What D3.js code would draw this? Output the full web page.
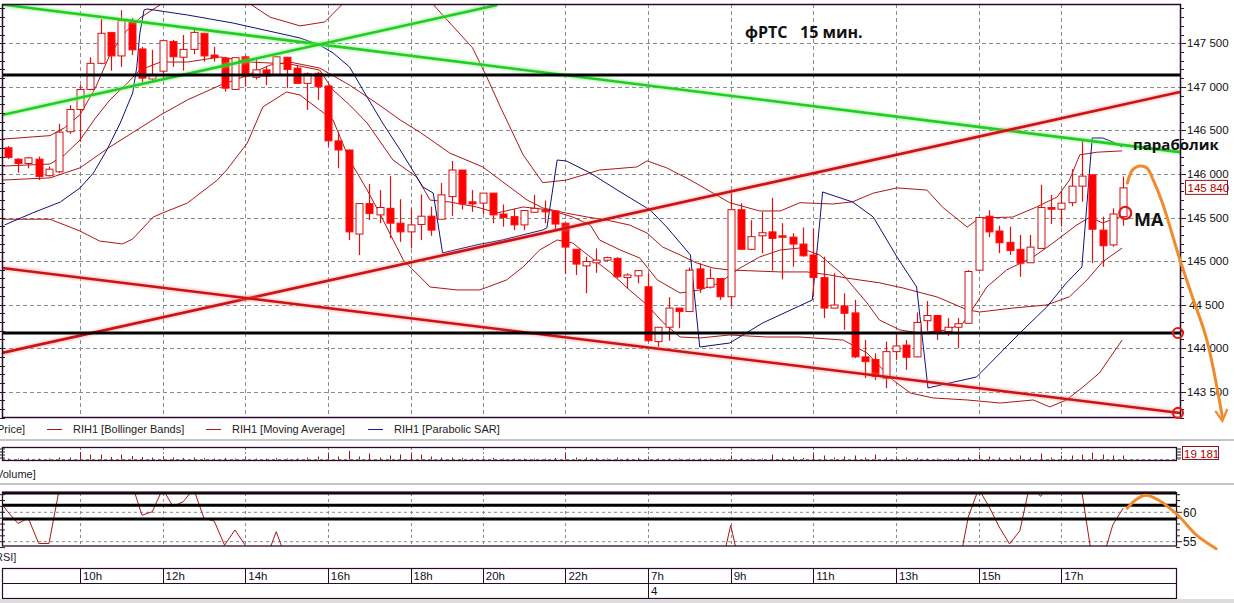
<!DOCTYPE html>
<html><head><meta charset="utf-8">
<script src="https://cdn.jsdelivr.net/npm/d3@7"></script>
<style>body{margin:0;background:#fff;overflow:hidden}svg{display:block}</style>
</head><body>
<svg id="c" width="1234" height="603"></svg>
<script>
// ---------- DATA ----------
const opens=[146300,146170,146120,146170,145980,146025,146485,146740,146970,147270,147625,147355,147740,147435,147090,147180,147520,147340,147430,147615,147365,147330,146970,147345,147110,147195,147135,147340,147215,147040,147155,147010,146380,146275,145310,145660,145530,145605,145435,145335,145420,145515,145480,145740,146045,145680,145665,145780,145540,145510,145415,145560,145585,145575,145435,145135,144945,144980,145010,145030,144810,144830,144705,144075,144240,144460,144420,144910,144700,144800,144590,145590,145135,145290,145335,145290,145275,145195,145070,144810,144460,144485,144405,143900,143870,143655,143960,144035,143900,144315,144375,144190,144240,144285,144895,145515,145345,145215,145135,144980,145145,145615,145595,145670,145860,145990,145355,145185,145510];
const highs=[146320,146180,146195,146200,146085,146575,146790,147020,147340,147780,147630,147880,147790,147460,147425,147540,147540,147595,147660,147620,147460,147345,147335,147360,147330,147230,147355,147345,147250,147165,147175,147020,146485,146280,145660,145885,145815,145975,145710,145605,145765,145625,145895,146150,146045,145815,145780,145780,145650,145600,145580,145760,145695,145575,145435,145135,145050,145145,145050,145045,144860,144890,144860,144240,144585,144460,144925,144975,144915,144800,145780,145665,145470,145565,145725,145435,145320,145385,145375,145050,144860,144630,144555,144095,143940,144075,144170,144095,144410,144540,144375,144345,144345,144895,145500,145585,145405,145395,145300,145300,145875,145760,145805,146055,146390,146000,145510,145605,145970];
const lows=[146170,146015,146065,145930,145970,146010,146460,146370,146960,147260,147185,147230,147365,147050,147060,147100,147230,147185,147375,147290,147290,146945,146970,147000,147085,147020,147135,146985,147040,146735,146850,146315,146065,145240,145070,145470,145435,145260,145220,145145,145240,145290,145480,145515,145590,145565,145540,145435,145395,145355,145355,145555,145435,145355,144850,144840,144630,144865,144995,144800,144685,144745,144075,144015,144085,144230,144420,144635,144685,144555,144485,145135,145125,145090,144890,144790,144935,145050,144590,144345,144460,144210,143885,143655,143635,143540,143865,143750,143895,144200,144095,144140,144000,144280,144895,145275,145090,145070,144820,144980,145145,145425,145395,145630,145680,144975,144935,145165,145405];
const closes=[146190,146120,146185,145970,146055,146480,146740,146970,147270,147615,147355,147760,147425,147100,147135,147530,147345,147430,147625,147355,147335,146985,147335,147125,147195,147125,147345,147200,147040,147150,147000,146380,146275,145335,145660,145545,145615,145435,145335,145415,145515,145355,145760,146045,145655,145655,145780,145530,145500,145415,145580,145605,145565,145425,145160,144965,144995,145010,145040,144820,144840,144890,144085,144240,144460,144420,144895,144685,144800,144590,145590,145135,145280,145325,145260,145275,145195,145060,144810,144460,144495,144400,143900,143845,143675,143960,144025,143895,144295,144375,144190,144240,144280,144880,145500,145335,145210,145120,144975,145160,145615,145595,145665,145860,145975,145365,145175,145540,145840];
const volumes=[1600,1600,1600,1600,1600,3200,3200,12000,8000,8000,4000,8000,5600,4000,3200,4800,3200,2400,3200,2400,1600,2400,1600,2400,1600,1600,2400,1600,1600,3200,4800,9600,4800,13600,4800,9600,3200,6400,8000,9600,8000,4800,3200,3200,2400,1600,1600,2400,1600,1600,1600,1600,1600,2400,9600,3200,3200,2400,1600,3200,1600,2400,2400,1600,1600,1600,1600,1600,1600,1600,6400,1600,1600,1600,8000,2400,4800,2400,9600,6400,3200,4800,6400,3200,8000,3200,2400,3200,2400,1600,1600,1600,2400,3200,8000,4800,3200,3200,6400,3200,9600,3200,6400,6400,8000,11200,8000,6400,6400];
// indicator lines: [candle index, price]
const upperBand=[[-0.5,146400],[4.1,146440],[5.5,146530],[7,146680],[8.5,146990],[9.9,147370],[11.4,147630],[12.8,147790],[15,147960],[17,148150],[20,148250],[22,148150],[23.5,147950],[25.4,147800],[28.3,147700],[30.7,147745],[32.5,147960],[35,148300],[38,148400],[40,148150],[41.1,147960],[42.1,147825],[45,147450],[46.4,147110],[47.7,146770],[49.9,146220],[51.8,145900],[54.1,145930],[57.3,146045],[60.9,146080],[61.9,146150],[63.8,146070],[66.1,145930],[68.3,145780],[69.9,145670],[72.8,145575],[74.8,145575],[76.7,145670],[79.9,145655],[81.8,145680],[83.8,145780],[86.1,145840],[89,145815],[90.5,145620],[92.9,145390],[94.1,145495],[97.3,145505],[99.6,145620],[101.6,145735],[102.8,145930],[103.8,146220],[105.5,146250],[107.9,146265]];
const middleBand=[[-0.5,145930],[4.1,145955],[7,146070],[9.9,146310],[14.8,146677],[17.4,146850],[20.6,147020],[22.8,147113],[25.4,147250],[27.3,147285],[30.2,147216],[33.1,147020],[36,146790],[38,146620],[39.9,146480],[42.8,146240],[46,146080],[48.6,145850],[50.3,145700],[51.8,145610],[54.1,145550],[56.1,145506],[58,145470],[60.2,145414],[61.9,145322],[63.4,145162],[65.1,145070],[66.7,144978],[68.3,144920],[69.9,144897],[74.8,144875],[77.4,144875],[79.6,144840],[81.2,144805],[84.4,144750],[86.7,144690],[90,144587],[92.9,144440],[94.1,144415],[97.3,144460],[100.6,144496],[102.8,144590],[104.5,144783],[106,144990],[107.9,145150]];
const lowerBand=[[-0.5,145480],[4.1,145480],[7,145345],[8.9,145230],[11.1,145196],[12.1,145253],[14.1,145506],[15,145552],[17.4,145666],[20.3,145930],[21.2,146045],[23.2,146355],[24.7,146769],[27,146941],[28.3,146906],[30.2,146735],[31.5,146620],[33.1,146160],[34.8,145816],[36,145552],[38.3,145012],[40.9,144702],[43.5,144668],[45.7,144668],[48.3,144783],[49.9,144932],[51.5,145127],[53.2,145242],[54.7,145207],[56.4,145047],[58.3,144874],[60.2,144668],[61.9,144496],[63.4,144300],[65.1,144128],[67,144117],[69.9,144151],[73.5,144128],[76.7,144128],[80.9,144093],[83.2,143944],[85.7,143634],[87.4,143485],[89.6,143428],[92.9,143405],[96.1,143370],[99.3,143405],[100.9,143325],[102.5,143405],[104.1,143554],[105.7,143715],[107.9,144093]];
const movingAverage=[[-0.5,146090],[4.1,146114],[5.5,146218],[7,146390],[8.5,146642],[9.9,146850],[11.4,147021],[12.8,147193],[14.8,147285],[17.4,147285],[20.6,147343],[23.5,147285],[27.3,147262],[30.2,147193],[31.5,146964],[33.1,146792],[34.8,146585],[37.3,146160],[39.6,145965],[40.9,145700],[42.8,145678],[45.4,145621],[47.4,145552],[49.9,145621],[52.5,145586],[54.7,145506],[56.4,145414],[57.3,145242],[59.3,145127],[61.2,145035],[62.9,144783],[65.1,144633],[67,144668],[68.9,144748],[70.9,144920],[72.8,145047],[74.8,145127],[76.7,145150],[78.6,145070],[80.9,144840],[83.2,144519],[84.4,144323],[86.4,144208],[88.3,144174],[90.9,144208],[92.5,144289],[93.8,144519],[94.8,144702],[96.7,144897],[99.3,145047],[101.2,145207],[103.5,145414],[104.8,145506],[106,145437],[107.9,145518]];
const parabolicSar=[[-0.3,145414],[2.4,145552],[5.1,145678],[7,145839],[8.3,146011],[9.6,146275],[10.9,146585],[12.1,146930],[12.5,147228],[12.8,147618],[13.2,147882],[13.5,147894],[17.4,147825],[21.8,147733],[25.7,147630],[28.3,147561],[30.2,147480],[31.5,147389],[33.1,147228],[34.8,146883],[36.3,146585],[38,146275],[40.2,145850],[41.2,145781],[42.1,145093],[45.4,145185],[47.9,145242],[51.8,145357],[52.2,145380],[53.2,146160],[54.1,146149],[56.4,146011],[59,145816],[62.2,145586],[63.8,145391],[66.1,145070],[67,144013],[69.9,144059],[73.1,144289],[77.9,144553],[78.9,145793],[81.8,145678],[83.8,145506],[86.1,145047],[88,144702],[89.1,143543],[91.2,143600],[93.8,143669],[96.1,143945],[98,144174],[100.6,144473],[102.5,144748],[104,144932],[105,146413],[106,146413],[107,146367],[107.9,146310]];
const rsiPoints=[[-1,62.5],[0,60.1],[1,58.1],[2,59.0],[3,54.7],[4,54.7],[5,64],[6,72],[11,75],[12,65],[13,59.5],[14,60.1],[15,64],[16,61.0],[17,61.8],[18,64],[19,59.0],[20,58.5],[21,54.4],[22,57.0],[23,54.4],[24,50],[25,52],[26,56.7],[27,52],[33,30],[45,45],[55,40],[62,30],[69,50],[70,57.8],[71,50],[80,40],[85,35],[92,50],[93,59.2],[94,64],[95,61],[96,57.5],[97,54.6],[98,56.9],[99,65],[100,62.7],[101,65],[104,63.5],[105,52],[106,52],[107,57.9],[108,60.7]];
// axes / labels
const priceTicks=[143500,144000,144500,145000,145500,146000,146500,147000,147500];
const priceTickLabels=["143 500","144 000","44 500","145 000","145 500","146 000","146 500","147 000","147 500"];
const timeLabels=["10h","12h","14h","16h","18h","20h","22h","7h","9h","11h","13h","15h","17h"];
const timeIndex=[7,15,23,31,39,46,54,62,70,78,86,94,102];
const dateLabel="4", dateIndex=62;
const lastPriceLabel="145 840", lastPrice=145840;
const volumeLabel="19 181";
const rsiTickValues=[60,55];
const rsiLevels=[63.3,61.2,58.85];
const horizontalLevels=[147136,144174];
const greenTrendLines=[[[-0.55,147945],[113.5,146250]],[[-0.55,146677],[47.4,147940]]];
const redTrendLines=[[[-0.55,143945],[113.5,146941]],[[-0.55,144920],[113.5,143256]]];
const orangeForecast=[[108.4,145896],[108.9,146045],[109.6,146091],[110.3,146068],[110.9,145931],[111.8,145666],[113.5,145012],[114.7,144588],[116.1,144093],[117.6,143210]];
const orangeRsi=[[108.4,60.7],[109.2,62.1],[110.2,62.9],[111.4,62.1],[113.3,59.5],[115.1,56.1],[117,53.8]];
const circleMarks=[[113.3,144174],[113.3,143256],[108.2,145552]];
const legendItems=[["RIH1 [Bollinger Bands]","#b01515"],["RIH1 [Moving Average]","#b01515"],["RIH1 [Parabolic SAR]","#1a1aa0"]];

// ---------- LAYOUT ----------
const svg=d3.select("#c");
const L=2,R=1180,T=4,B=417;
const x=d3.scaleLinear().domain([-0.55,113.5]).range([L,R]);
const y=d3.scaleLinear().domain([143500,147500]).range([391.7,43.3]);
const yVol=d3.scaleLinear().domain([0,20000]).range([459.5,447]);
const yRsi=d3.scaleLinear().domain([55,60]).range([541.7,512.3]);
const font="'Liberation Sans',Arial,sans-serif";
const border="#2a0a2a", grid="#8a8a8a";

const defs=svg.append("defs");
defs.append("clipPath").attr("id","cm").append("rect").attr("x",L).attr("y",T).attr("width",R-L).attr("height",B-T);
defs.append("clipPath").attr("id","cr").append("rect").attr("x",L).attr("y",492).attr("width",R-L).attr("height",54);
const glow=defs.append("filter").attr("id","glow").attr("x","-5%").attr("y","-50%").attr("width","110%").attr("height","200%");
glow.append("feGaussianBlur").attr("stdDeviation",0.8);

svg.append("rect").attr("width",1234).attr("height",603).attr("fill","#fff");

// ---------- MAIN PANEL ----------
const main=svg.append("g");
const mg=main.append("g").attr("clip-path","url(#cm)");
mg.selectAll(".hg").data(priceTicks).join("line").attr("x1",L).attr("x2",R)
  .attr("y1",d=>Math.round(y(d))+0.5).attr("y2",d=>Math.round(y(d))+0.5)
  .attr("stroke",grid).attr("stroke-dasharray","4,3");
mg.selectAll(".vg").data(timeIndex).join("line").attr("y1",T).attr("y2",B)
  .attr("x1",d=>Math.round(x(d))+0.5).attr("x2",d=>Math.round(x(d))+0.5)
  .attr("stroke",grid).attr("stroke-dasharray","4,3");

const line=d3.line().x(d=>x(d[0])).y(d=>y(d[1]));
[upperBand,middleBand,lowerBand,movingAverage].forEach(s=>{
  mg.append("path").attr("d",line(s)).attr("fill","none").attr("stroke","#b01515").attr("stroke-width",1);
});
mg.append("path").attr("d",line(parabolicSar)).attr("fill","none").attr("stroke","#10107a").attr("stroke-width",1);

// candles
const idx=d3.range(opens.length);
const cg=mg.append("g");
cg.selectAll(".w").data(idx).join("line")
  .attr("x1",i=>Math.round(x(i))+0.5).attr("x2",i=>Math.round(x(i))+0.5)
  .attr("y1",i=>y(highs[i])).attr("y2",i=>y(lows[i]))
  .attr("stroke","#e01010").attr("stroke-width",1.2);
cg.selectAll(".b").data(idx).join("rect")
  .attr("x",i=>Math.round(x(i))-3).attr("width",7)
  .attr("y",i=>y(Math.max(opens[i],closes[i])))
  .attr("height",i=>Math.max(1.5,Math.abs(y(opens[i])-y(closes[i]))))
  .attr("fill",i=>closes[i]<opens[i]?"#ff0000":"#ffffff")
  .attr("stroke",i=>closes[i]<opens[i]?"#ff1010":"#d01010").attr("stroke-width",1);

// trend lines
greenTrendLines.forEach(s=>{
  mg.append("path").attr("d",line(s)).attr("stroke","#7cf07c").attr("stroke-width",5).attr("opacity",0.5).attr("filter","url(#glow)");
  mg.append("path").attr("d",line(s)).attr("stroke","#22cc22").attr("stroke-width",2.6);
});
redTrendLines.forEach(s=>{
  mg.append("path").attr("d",line(s)).attr("stroke","#ff8080").attr("stroke-width",5).attr("opacity",0.45).attr("filter","url(#glow)");
  mg.append("path").attr("d",line(s)).attr("stroke","#c81414").attr("stroke-width",2.6);
});
mg.selectAll(".hl").data(horizontalLevels).join("line").attr("x1",L).attr("x2",R)
  .attr("y1",d=>y(d)).attr("y2",d=>y(d)).attr("stroke","#000").attr("stroke-width",3);

main.append("rect").attr("x",L+0.5).attr("y",T+0.5).attr("width",R-L).attr("height",B-T)
  .attr("fill","none").attr("stroke",border).attr("stroke-width",1.5);

// right axis ticks
const minor=d3.range(143200,147901,100);
main.selectAll(".mt").data(minor).join("line").attr("x1",R).attr("x2",d=>d%500===0?R+6:R+4)
  .attr("y1",d=>Math.round(y(d))+0.5).attr("y2",d=>Math.round(y(d))+0.5).attr("stroke","#222");
main.selectAll(".lt").data(minor).join("line").attr("x1",0).attr("x2",L+3)
  .attr("y1",d=>Math.round(y(d))+0.5).attr("y2",d=>Math.round(y(d))+0.5).attr("stroke","#222");
main.selectAll(".pl").data(priceTicks).join("text").attr("x",d=>d===144500?1189:1187).attr("y",d=>y(d)+4)
  .attr("font-family",font).attr("font-size",11.5).attr("fill","#111").text((d,i)=>priceTickLabels[i]);
// last price box
main.append("rect").attr("x",1185.5).attr("y",y(lastPrice)-7.5).attr("width",42).attr("height",14)
  .attr("fill","#fff").attr("stroke","#a01010");
main.append("text").attr("x",1187.5).attr("y",y(lastPrice)+4).attr("font-family",font).attr("font-size",11.5)
  .attr("fill","#b00000").text(lastPriceLabel);

// annotations
main.append("text").attr("x",745).attr("y",38).attr("font-family","'Open Sans',sans-serif").attr("font-weight","bold")
  .attr("font-size",16).attr("fill","#111").attr("xml:space","preserve").text("фРТС   15 мин.");
main.append("text").attr("x",1133).attr("y",150).attr("font-family","'Open Sans',sans-serif").attr("font-weight","bold")
  .attr("font-size",15).attr("fill","#111").text("параболик");
main.append("text").attr("x",1134).attr("y",226).attr("font-family","'Open Sans',sans-serif").attr("font-weight","bold")
  .attr("font-size",18).attr("fill","#111").text("MA");
main.selectAll(".cm").data(circleMarks).join("circle").attr("cx",d=>x(d[0])).attr("cy",d=>y(d[1]))
  .attr("r",(d,i)=>i===2?6:5).attr("fill","none").attr("stroke","#e01818").attr("stroke-width",2.2);
const curve=d3.line().x(d=>x(d[0])).y(d=>y(d[1])).curve(d3.curveCatmullRom);
main.append("path").attr("d",curve(orangeForecast)).attr("fill","none").attr("stroke","#f28a2a").attr("stroke-width",3).attr("stroke-linecap","round");
const tip=orangeForecast[orangeForecast.length-1];
main.append("path").attr("d",`M${x(tip[0])-7},${y(tip[1])-6}L${x(tip[0])},${y(tip[1])+4}L${x(tip[0])+5},${y(tip[1])-8}`)
  .attr("fill","none").attr("stroke","#f28a2a").attr("stroke-width",2.2);

// ---------- LEGEND ----------
svg.append("text").attr("x",-3).attr("y",433).attr("font-family",font).attr("font-size",11).attr("fill","#222").text("Price]");
const legX=[47,206,368];
legendItems.forEach((d,i)=>{
  svg.append("line").attr("x1",legX[i]).attr("x2",legX[i]+15).attr("y1",429.5).attr("y2",429.5).attr("stroke",d[1]);
  svg.append("text").attr("x",legX[i]+26).attr("y",433).attr("font-family",font).attr("font-size",11).attr("fill","#222").text(d[0]);
});
svg.append("line").attr("x1",0).attr("x2",1234).attr("y1",440).attr("y2",440).attr("stroke","#c4c4c4").attr("stroke-width",2);

// ---------- VOLUME ----------
const vg=svg.append("g");
vg.append("line").attr("x1",L).attr("x2",R).attr("y1",459.5).attr("y2",459.5).attr("stroke",grid).attr("stroke-dasharray","3,3");
vg.selectAll(".vv").data(timeIndex).join("line").attr("x1",d=>Math.round(x(d))+0.5).attr("x2",d=>Math.round(x(d))+0.5)
  .attr("y1",448).attr("y2",460).attr("stroke",grid).attr("stroke-dasharray","2,2");
vg.selectAll(".vb").data(idx).join("line").attr("x1",i=>Math.round(x(i))+0.5).attr("x2",i=>Math.round(x(i))+0.5)
  .attr("y1",yVol(0)).attr("y2",i=>yVol(volumes[i])).attr("stroke","#a01010");
vg.append("rect").attr("x",L+0.5).attr("y",447.5).attr("width",R-L-4).attr("height",13).attr("fill","none").attr("stroke",border).attr("stroke-width",1.3);
[449,452,455,458].forEach(t=>{vg.append("line").attr("x1",0).attr("x2",L+3).attr("y1",t).attr("y2",t).attr("stroke","#222");
  vg.append("line").attr("x1",R-4).attr("x2",R+1).attr("y1",t).attr("y2",t).attr("stroke","#222");});
vg.append("rect").attr("x",1182.5).attr("y",446.5).attr("width",36).attr("height",13).attr("fill","#fff").attr("stroke","#a01010");
vg.append("text").attr("x",1184).attr("y",457.5).attr("font-family",font).attr("font-size",11.5).attr("fill","#b00000").text(volumeLabel);
svg.append("text").attr("x",-4).attr("y",478).attr("font-family",font).attr("font-size",11).attr("fill","#222").text("Volume]");
svg.append("line").attr("x1",0).attr("x2",1234).attr("y1",484).attr("y2",484).attr("stroke","#c4c4c4").attr("stroke-width",2);

// ---------- RSI ----------
const rg=svg.append("g");
rg.selectAll(".rd").data(rsiTickValues).join("line").attr("x1",L).attr("x2",R-4).attr("y1",d=>yRsi(d)).attr("y2",d=>yRsi(d))
  .attr("stroke",grid).attr("stroke-dasharray","3,3");
rg.selectAll(".rv").data(timeIndex).join("line").attr("x1",d=>Math.round(x(d))+0.5).attr("x2",d=>Math.round(x(d))+0.5)
  .attr("y1",493).attr("y2",546).attr("stroke",grid).attr("stroke-dasharray","3,3");
const rline=d3.line().x(d=>x(d[0])).y(d=>yRsi(d[1]));
rg.append("path").attr("clip-path","url(#cr)").attr("d",rline(rsiPoints)).attr("fill","none").attr("stroke","#b01515").attr("stroke-width",1);
rg.selectAll(".rl").data(rsiLevels).join("line").attr("x1",L).attr("x2",R-4).attr("y1",d=>yRsi(d)).attr("y2",d=>yRsi(d))
  .attr("stroke","#000").attr("stroke-width",3);
rg.append("rect").attr("x",L+0.5).attr("y",492.5).attr("width",R-L-4).attr("height",53.5).attr("fill","none").attr("stroke",border).attr("stroke-width",1.3);
d3.range(54,64).forEach(v=>{
  rg.append("line").attr("x1",R-4).attr("x2",v%5===0?R+2:R).attr("y1",yRsi(v)).attr("y2",yRsi(v)).attr("stroke","#222");
  rg.append("line").attr("x1",0).attr("x2",L+3).attr("y1",yRsi(v)).attr("y2",yRsi(v)).attr("stroke","#222");
});
rg.selectAll(".rt").data(rsiTickValues).join("text").attr("x",1183).attr("y",d=>yRsi(d)+4.5)
  .attr("font-family",font).attr("font-size",12).attr("fill","#111").text(d=>d);
rg.append("path").attr("d",d3.line().x(d=>x(d[0])).y(d=>yRsi(d[1])).curve(d3.curveCatmullRom)(orangeRsi))
  .attr("fill","none").attr("stroke","#f28a2a").attr("stroke-width",3).attr("stroke-linecap","round");
svg.append("text").attr("x",-5).attr("y",561).attr("font-family",font).attr("font-size",11).attr("fill","#222").text("RSI]");

// ---------- TIME AXIS ----------
const tg=svg.append("g");
tg.append("rect").attr("x",L+0.5).attr("y",568.5).attr("width",R-L-4).attr("height",30).attr("fill","#fff").attr("stroke",border).attr("stroke-width",1.2);
tg.append("line").attr("x1",L).attr("x2",R-4).attr("y1",583.5).attr("y2",583.5).attr("stroke",border);
tg.selectAll(".tl").data(timeIndex).join("line").attr("x1",d=>Math.round(x(d))+0.5).attr("x2",d=>Math.round(x(d))+0.5)
  .attr("y1",568).attr("y2",583).attr("stroke",border);
tg.selectAll(".tt").data(timeIndex).join("text").attr("x",d=>x(d)+3).attr("y",580).attr("font-family",font).attr("font-size",11.5).attr("fill","#111")
  .text((d,i)=>timeLabels[i]);
tg.append("line").attr("x1",Math.round(x(dateIndex))+0.5).attr("x2",Math.round(x(dateIndex))+0.5).attr("y1",583).attr("y2",598).attr("stroke",border);
tg.append("text").attr("x",x(dateIndex)+3).attr("y",595).attr("font-family",font).attr("font-size",11.5).attr("fill","#111").text(dateLabel);
svg.append("rect").attr("x",0).attr("y",599).attr("width",1234).attr("height",4).attr("fill","#dcdcdc");
</script>
</body></html>
